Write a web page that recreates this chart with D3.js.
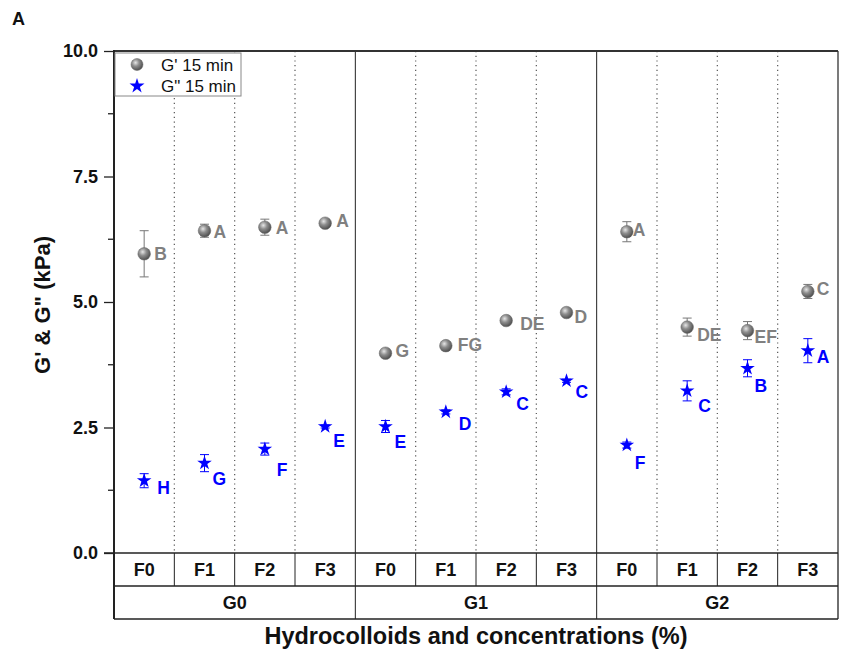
<!DOCTYPE html>
<html>
<head>
<meta charset="utf-8">
<script src="https://cdn.jsdelivr.net/npm/d3@7"></script>
<style>
  html, body { margin: 0; padding: 0; background: #fff; }
  svg { display: block; font-family: Arial, "Liberation Sans", sans-serif; }
</style>
</head>
<body>
<svg id="chart" width="843" height="655"></svg>
<script>
// Hydrocolloid groups and concentration levels
const groups = ["G0", "G1", "G2"];
const levels = ["F0", "F1", "F2", "F3"];

// G' (storage modulus) after 15 min, kPa
const gPrime = [5.96, 6.42, 6.49, 6.57, 3.98, 4.13, 4.63, 4.79, 6.40, 4.50, 4.43, 5.21];
const gPrimeErr = [0.46, 0.13, 0.16, 0.05, 0.03, 0.03, 0.05, 0.05, 0.20, 0.18, 0.18, 0.14];
const gPrimeLetters = ["B", "A", "A", "A", "G", "FG", "DE", "D", "A", "DE", "EF", "C"];

// G'' (loss modulus) after 15 min, kPa
const gDouble = [1.44, 1.79, 2.07, 2.52, 2.52, 2.81, 3.21, 3.43, 2.15, 3.23, 3.68, 4.03];
const gDoubleErr = [0.14, 0.17, 0.12, 0.03, 0.12, 0.04, 0.06, 0.03, 0.06, 0.20, 0.17, 0.24];
const gDoubleLetters = ["H", "G", "F", "E", "E", "D", "C", "C", "F", "C", "B", "A"];

// Y axis ticks
const majorTicks = [0, 2.5, 5, 7.5, 10];
const minorTicks = [1.25, 3.75, 6.25, 8.75];

// Letter placement relative to each marker [dx, dy]
const gPrimeLabelOffset = [[10,0],[9,1],[11,0],[11,-2],[10,-3],[12,-1],[14,3],[8,4],[6,-2],[10,8],[7,6],[9,-3]];
const gDoubleLabelOffset = [[13,7],[8,16],[12,21],[8,14],[9,15],[13,12],[10,12],[9,11],[8,18],[11,15],[7,17],[9,6]];

const svg = d3.select("#chart");
const plotLeft = 114, plotRight = 838, plotTop = 51, plotBottom = 553;
const rowH = 33;

const keys = groups.flatMap(g => levels.map(f => g + "|" + f));
const x = d3.scaleBand().domain(keys).range([plotLeft, plotRight]).padding(0);
const y = d3.scaleLinear().domain([0, 10]).range([plotBottom, plotTop]);
const cx = i => x(keys[i]) + x.bandwidth() / 2;

// gradient for shaded sphere markers
const defs = svg.append("defs");
const grad = defs.append("radialGradient").attr("id", "sphere")
  .attr("cx", "0.38").attr("cy", "0.35").attr("r", "0.65");
grad.append("stop").attr("offset", "0%").attr("stop-color", "#e6e6e6");
grad.append("stop").attr("offset", "45%").attr("stop-color", "#8e8e8e");
grad.append("stop").attr("offset", "100%").attr("stop-color", "#505050");

// dotted separators between levels inside each group
const inner = keys.map((k, i) => i).filter(i => i > 0 && i % 4 !== 0);
svg.append("g").selectAll("line").data(inner).join("line")
  .attr("x1", i => x(keys[i])).attr("x2", i => x(keys[i]))
  .attr("y1", plotTop).attr("y2", plotBottom)
  .attr("stroke", "#555").attr("stroke-width", 1.2).attr("stroke-dasharray", "1.2,3.5");

// solid separators between groups, running through the category table
const groupEdges = [4, 8];
svg.append("g").selectAll("line").data(groupEdges).join("line")
  .attr("x1", i => x(keys[i])).attr("x2", i => x(keys[i]))
  .attr("y1", plotTop).attr("y2", plotBottom + 2 * rowH)
  .attr("stroke", "#222").attr("stroke-width", 1);

// category table: level row then group row
const tbl = svg.append("g");
tbl.selectAll("line.lv").data(inner).join("line")
  .attr("x1", i => x(keys[i])).attr("x2", i => x(keys[i]))
  .attr("y1", plotBottom).attr("y2", plotBottom + rowH)
  .attr("stroke", "#222").attr("stroke-width", 1);
tbl.append("line").attr("x1", plotLeft).attr("x2", plotRight)
  .attr("y1", plotBottom + rowH).attr("y2", plotBottom + rowH).attr("stroke", "#222").attr("stroke-width", 1.3);
tbl.append("line").attr("x1", plotLeft).attr("x2", plotRight)
  .attr("y1", plotBottom + 2 * rowH).attr("y2", plotBottom + 2 * rowH).attr("stroke", "#222").attr("stroke-width", 1.5);
tbl.append("line").attr("x1", plotRight).attr("x2", plotRight)
  .attr("y1", plotBottom).attr("y2", plotBottom + 2 * rowH).attr("stroke", "#222").attr("stroke-width", 1.3);
tbl.selectAll("text.lv").data(keys).join("text")
  .attr("x", k => x(k) + x.bandwidth() / 2).attr("y", plotBottom + rowH / 2 + 6.5)
  .attr("text-anchor", "middle").attr("font-weight", "bold").attr("font-size", 18)
  .attr("fill", "#111").text(k => k.split("|")[1]);
tbl.selectAll("text.gr").data(groups).join("text")
  .attr("x", (g, gi) => (x(keys[gi * 4]) + x(keys[gi * 4 + 3]) + x.bandwidth()) / 2)
  .attr("y", plotBottom + rowH * 1.5 + 6.5)
  .attr("text-anchor", "middle").attr("font-weight", "bold").attr("font-size", 18)
  .attr("fill", "#111").text(g => g);

// plot frame
svg.append("line").attr("x1", plotLeft).attr("x2", plotRight).attr("y1", plotTop).attr("y2", plotTop)
  .attr("stroke", "#333").attr("stroke-width", 1.8);
svg.append("line").attr("x1", plotRight).attr("x2", plotRight).attr("y1", plotTop).attr("y2", plotBottom)
  .attr("stroke", "#333").attr("stroke-width", 1.3);
svg.append("line").attr("x1", plotLeft - 10).attr("x2", plotRight).attr("y1", plotBottom).attr("y2", plotBottom)
  .attr("stroke", "#222").attr("stroke-width", 1.5);

// y axis
const yAxis = d3.axisLeft(y).tickValues(majorTicks).tickSize(10).tickPadding(6)
  .tickFormat(d3.format(".1f"));
const ya = svg.append("g").attr("transform", `translate(${plotLeft},0)`).call(yAxis);
ya.select(".domain").remove();
ya.selectAll("line").attr("stroke", "#222").attr("stroke-width", 1.3);
ya.selectAll("text").attr("font-size", 18).attr("font-weight", "bold")
  .attr("font-family", "Arial, 'Liberation Sans', sans-serif").attr("fill", "#111");
svg.append("g").selectAll("line").data(minorTicks).join("line")
  .attr("x1", plotLeft - 6).attr("x2", plotLeft).attr("y1", d => y(d)).attr("y2", d => y(d))
  .attr("stroke", "#222").attr("stroke-width", 1.3);
svg.append("line").attr("x1", plotLeft).attr("x2", plotLeft).attr("y1", plotTop - 1).attr("y2", plotBottom + 2 * rowH)
  .attr("stroke", "#222").attr("stroke-width", 2);

// error bars
function errorBars(vals, errs, color) {
  const g = svg.append("g").attr("stroke", color).attr("stroke-width", 1);
  vals.forEach((v, i) => {
    const e = errs[i], xc = cx(i);
    g.append("line").attr("x1", xc).attr("x2", xc).attr("y1", y(v - e)).attr("y2", y(v + e));
    [v - e, v + e].forEach(t => g.append("line")
      .attr("x1", xc - 4.5).attr("x2", xc + 4.5).attr("y1", y(t)).attr("y2", y(t)));
  });
}
errorBars(gPrime, gPrimeErr, "#777");
errorBars(gDouble, gDoubleErr, "#0000ff");

// G' spheres
svg.append("g").selectAll("circle").data(gPrime).join("circle")
  .attr("cx", (d, i) => cx(i)).attr("cy", d => y(d)).attr("r", 6.3)
  .attr("fill", "url(#sphere)").attr("stroke", "#666").attr("stroke-width", 0.5);

// G'' stars
const star = d3.symbol().type(d3.symbolStar).size(66);
svg.append("g").selectAll("path").data(gDouble).join("path")
  .attr("transform", (d, i) => `translate(${cx(i)},${y(d)})`)
  .attr("d", star).attr("fill", "#0000ff");

// significance letters
function letters(vals, labels, offsets, color) {
  svg.append("g").selectAll("text").data(vals).join("text")
    .attr("x", (d, i) => cx(i) + offsets[i][0])
    .attr("y", (d, i) => y(d) + offsets[i][1])
    .attr("dy", "0.36em")
    .attr("font-size", 17.5).attr("font-weight", "bold").attr("fill", color)
    .text((d, i) => labels[i]);
}
letters(gPrime, gPrimeLetters, gPrimeLabelOffset, "#808080");
letters(gDouble, gDoubleLetters, gDoubleLabelOffset, "#0000ff");

// legend
const lg = svg.append("g");
lg.append("rect").attr("x", 115).attr("y", 53).attr("width", 126).attr("height", 43)
  .attr("fill", "#fff").attr("stroke", "#888").attr("stroke-width", 1);
lg.append("circle").attr("cx", 137).attr("cy", 64.5).attr("r", 6)
  .attr("fill", "url(#sphere)").attr("stroke", "#666").attr("stroke-width", 0.5);
lg.append("path").attr("transform", "translate(137,86)")
  .attr("d", d3.symbol().type(d3.symbolStar).size(70)).attr("fill", "#0000ff");
lg.append("text").attr("x", 161).attr("y", 70.5).attr("font-size", 17).attr("fill", "#111").text("G' 15 min");
lg.append("text").attr("x", 161).attr("y", 92).attr("font-size", 17).attr("fill", "#111").text("G\" 15 min");

// axis titles and panel letter
svg.append("text").attr("transform", "translate(50,305) rotate(-90)")
  .attr("text-anchor", "middle").attr("font-size", 22).attr("font-weight", "bold")
  .attr("fill", "#111").text("G' & G\" (kPa)");
svg.append("text").attr("x", (plotLeft + plotRight) / 2).attr("y", 644)
  .attr("text-anchor", "middle").attr("font-size", 23.5).attr("font-weight", "bold")
  .attr("fill", "#111").text("Hydrocolloids and concentrations (%)");
svg.append("text").attr("x", 12).attr("y", 25).attr("font-size", 18).attr("font-weight", "bold")
  .attr("fill", "#111").text("A");
</script>
</body>
</html>
